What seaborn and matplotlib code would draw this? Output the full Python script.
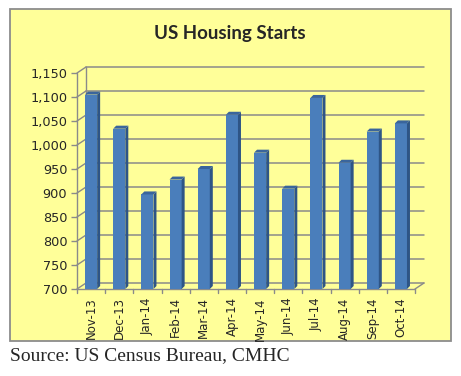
import matplotlib
matplotlib.use("Agg")
import matplotlib.pyplot as plt
import matplotlib.transforms as mtransforms
from matplotlib.patches import Polygon, Rectangle
import pandas as pd
import seaborn as sns

# Data (thousands of units, SAAR)
months = ['Nov-13', 'Dec-13', 'Jan-14', 'Feb-14', 'Mar-14', 'Apr-14',
          'May-14', 'Jun-14', 'Jul-14', 'Aug-14', 'Sep-14', 'Oct-14']
starts = [1105, 1034, 897, 928, 950, 1063, 984, 909, 1098, 963, 1028, 1045]
y_ticks = [700, 750, 800, 850, 900, 950, 1000, 1050, 1100, 1150]

df = pd.DataFrame({'month': months, 'starts': starts})

sns.set_style("white")
plt.rcParams['font.family'] = ['DejaVu Sans']

W, H = 461, 376
fig = plt.figure(figsize=(W / 100, H / 100), dpi=100)
fig.patch.set_facecolor('white')

# yellow chart area with grey frame
fig.patches.append(Rectangle((10 / W, 1 - 341 / H), 441 / W, 332 / H,
                             transform=fig.transFigure, facecolor='#FFFF99',
                             edgecolor='#8C8C8C', lw=1.3, zorder=-1))

ax = fig.add_axes([77 / W, 1 - 289 / H, 338 / W, 216 / H])
ax.set_zorder(2)
ax.set_facecolor('none')

sns.barplot(data=df, x='month', y='starts', color='#4A7EBB', saturation=1,
            width=0.43, linewidth=0, ax=ax, zorder=3)
ax.set_ylim(700, 1150)
ax.set_xlim(-0.5, len(months) - 0.5)
for s in ax.spines.values():
    s.set_visible(False)

grid_c = '#8A8A8A'
# back wall gridlines, shifted by the 3D depth
back = mtransforms.offset_copy(ax.transData, fig=fig, x=9, y=6, units='dots')
for t in y_ticks:
    ax.plot([-0.5, len(months) - 0.5], [t, t], color=grid_c, lw=1.1,
            transform=back, zorder=1, clip_on=False)

# left wall and floor edges (display coords)
ident = mtransforms.IdentityTransform()
x_l, x_r = -0.5, len(months) - 0.5
for t in y_ticks:
    p = ax.transData.transform((x_l, t))
    ax.add_line(plt.Line2D([p[0], p[0] + 9], [p[1], p[1] + 6], color=grid_c,
                           lw=1.0, transform=ident, clip_on=False, zorder=1))
p0 = ax.transData.transform((x_l, 700))
p1 = ax.transData.transform((x_l, 1150))
ax.add_line(plt.Line2D([p0[0], p1[0]], [p0[1], p1[1]], color=grid_c, lw=1.0,
                       transform=ident, clip_on=False, zorder=1))
ax.add_line(plt.Line2D([p0[0] + 9, p1[0] + 9], [p0[1] + 6, p1[1] + 6],
                       color=grid_c, lw=1.0, transform=ident, clip_on=False, zorder=1))
pr = ax.transData.transform((x_r, 700))
ax.add_line(plt.Line2D([p0[0], pr[0]], [p0[1], pr[1]], color=grid_c, lw=1.0,
                       transform=ident, clip_on=False, zorder=2))
ax.add_line(plt.Line2D([pr[0], pr[0] + 9], [pr[1], pr[1] + 6], color=grid_c,
                       lw=1.0, transform=ident, clip_on=False, zorder=2))

# 3D side face and top cap for each bar
d = 3
for bar in list(ax.patches):
    x0 = bar.get_x()
    x1 = x0 + bar.get_width()
    top = bar.get_height()
    a = ax.transData.transform((x0, top))
    b = ax.transData.transform((x1, top))
    c = ax.transData.transform((x1, 700))
    side = [(b[0], b[1]), (b[0] + d, b[1] + d), (c[0] + d, c[1] + d), (c[0], c[1])]
    cap = [(a[0], a[1]), (a[0] + d, a[1] + d), (b[0] + d, b[1] + d), (b[0], b[1])]
    ax.add_patch(Polygon(side, closed=True, facecolor='#2E5586', edgecolor='none',
                         transform=ident, clip_on=False, zorder=3))
    ax.add_patch(Polygon(cap, closed=True, facecolor='#3A659C', edgecolor='none',
                         transform=ident, clip_on=False, zorder=3))

# ticks
ax.set_yticks(y_ticks)
ax.set_yticklabels([f'{t:,}' for t in y_ticks], fontsize=9.3)
ax.set_xticks(range(len(months)))
ax.set_xticklabels(months, rotation=90, fontsize=8.5)
ax.tick_params(axis='y', length=4, width=1, color=grid_c, pad=3, left=True)
ax.tick_params(axis='x', length=0, pad=6)
for i in range(len(months) + 1):
    p = ax.transData.transform((i - 0.5, 700))
    ax.add_line(plt.Line2D([p[0], p[0]], [p[1], p[1] - 4], color=grid_c, lw=1.0,
                           transform=ident, clip_on=False, zorder=2))
ax.set_xlabel('')
ax.set_ylabel('')

fig.text(230 / W, 1 - 33 / H, 'US Housing Starts', ha='center', va='center',
         fontsize=13.5, fontweight='bold', family=['Lato', 'DejaVu Sans'])
fig.text(10 / W, 1 - 356 / H, 'Source: US Census Bureau, CMHC', ha='left',
         va='center', fontsize=14, family=['Liberation Serif', 'DejaVu Serif'])

fig.savefig('out.png', dpi=100)
